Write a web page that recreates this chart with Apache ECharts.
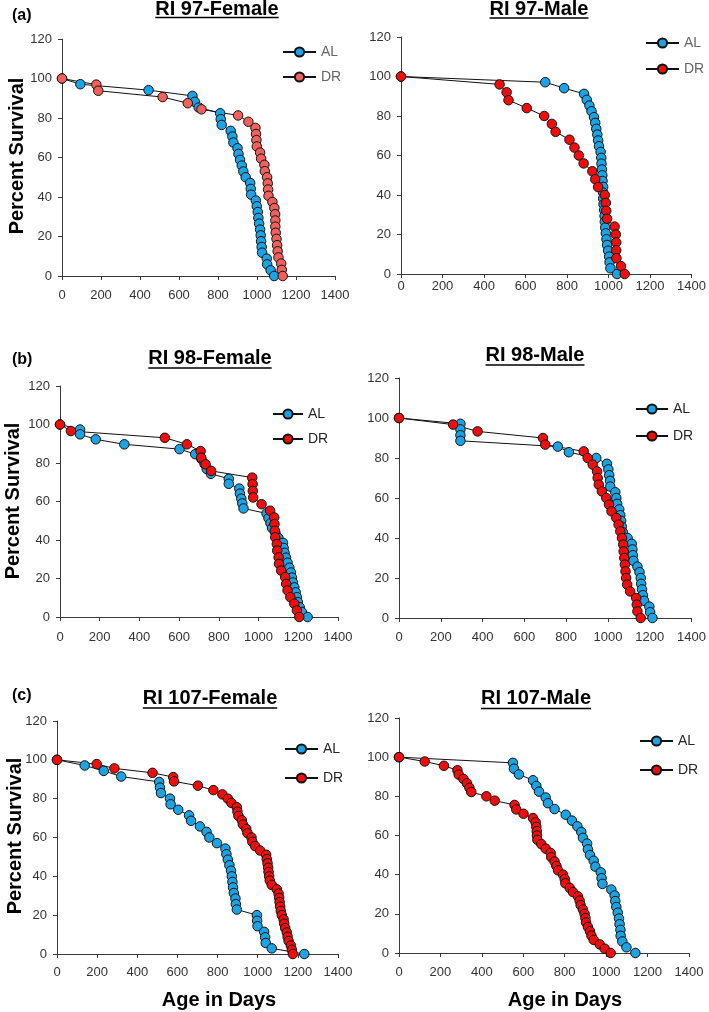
<!DOCTYPE html>
<html><head><meta charset="utf-8">
<script src="https://cdn.jsdelivr.net/npm/echarts@6/dist/echarts.min.js"></script>
<style>html,body{margin:0;padding:0;background:#fff}#c{width:709px;height:1012px}</style>
</head><body><div id="c"></div>
<script>
// ---------- data ----------
const xTicks = [0, 200, 400, 600, 800, 1000, 1200, 1400];
const yTicks = [0, 20, 40, 60, 80, 100, 120];
const panelTitles = ['RI 97-Female', 'RI 97-Male', 'RI 98-Female', 'RI 98-Male', 'RI 107-Female', 'RI 107-Male'];
const panelLetters = ['(a)', '(b)', '(c)'];
const groupNames = ['AL', 'DR'];
const yAxisTitle = 'Percent Survival';
const xAxisTitle = 'Age in Days';

// RI 97-Female
const f97_AL_days = [0,94,444,669,681,701,811,814,819,865,874,879,900,905,913,922,930,942,965,968,970,994,999,1004,1007,1011,1016,1019,1021,1024,1026,1050,1052,1070,1088];
const f97_AL_surv = [100,97.1,94.1,91.2,88.2,85.3,82.4,79.4,76.5,73.5,70.6,67.6,64.7,61.8,58.8,55.9,52.9,50,47.1,44.1,41.2,38.2,35.3,32.4,29.4,26.5,23.5,20.6,17.6,14.7,11.8,8.8,5.9,2.9,0];
const f97_DR_days = [0,176,186,516,645,715,903,956,992,995,997,999,1016,1021,1038,1040,1052,1055,1057,1059,1079,1089,1093,1094,1094,1096,1100,1103,1106,1110,1124,1127,1132];
const f97_DR_surv = [100,96.9,93.8,90.6,87.5,84.4,81.3,78.1,75,71.9,68.8,65.6,62.5,59.4,56.3,53.1,50,46.9,43.8,40.6,37.5,34.4,31.3,28.1,25,21.9,18.8,15.6,12.5,9.4,6.3,3.1,0];
// RI 97-Male
const m97_AL_days = [0,695,786,882,895,908,918,930,936,941,946,950,954,962,965,966,968,970,971,974,974,974,976,979,981,982,984,987,990,993,998,1003,1005,1009,1041];
const m97_AL_surv = [100,97.1,94.1,91.2,88.2,85.3,82.4,79.4,76.5,73.5,70.6,67.6,64.7,61.8,58.8,55.9,52.9,50,47.1,44.1,41.2,38.2,35.3,32.4,29.4,26.5,23.5,20.6,17.6,14.7,11.8,8.8,5.9,2.9,0];
const m97_DR_days = [0,475,509,518,606,690,727,745,812,836,857,880,922,936,950,982,987,989,993,1029,1035,1037,1037,1038,1060,1078];
const m97_DR_surv = [100,96,92,88,84,80,76,72,68,64,60,56,52,48,44,40,36,32,28,24,20,16,12,8,4,0];
// RI 98-Female
const f98_AL_days = [0,101,101,180,324,602,681,712,728,739,760,850,850,903,906,913,918,924,1040,1050,1060,1068,1085,1100,1123,1126,1131,1138,1146,1155,1163,1168,1173,1180,1187,1193,1198,1207,1218,1247];
const f98_AL_surv = [100,97.4,94.9,92.3,89.7,87.2,84.6,82.1,79.5,76.9,74.4,71.8,69.2,66.7,64.1,61.5,59,56.4,53.8,51.3,48.7,46.2,43.6,41,38.5,35.9,33.3,30.8,28.2,25.6,23.1,20.5,17.9,15.4,12.8,10.3,7.7,5.1,2.6,0];
const f98_DR_days = [0,55,528,639,708,711,733,761,968,970,971,973,1015,1058,1079,1080,1082,1084,1092,1094,1101,1103,1114,1134,1139,1146,1160,1180,1193,1205];
const f98_DR_surv = [100,96.6,93.1,89.7,86.2,82.8,79.3,75.9,72.4,69,65.5,62.1,58.6,55.2,51.7,48.3,44.8,41.4,37.9,34.5,31,27.6,24.1,20.7,17.2,13.8,10.3,6.9,3.4,0];
// RI 98-Male
const m98_AL_days = [0,294,294,294,294,760,813,944,995,1002,1006,1010,1011,1035,1040,1044,1054,1059,1063,1066,1071,1094,1114,1117,1119,1122,1141,1151,1157,1159,1163,1167,1173,1198,1202,1213];
const m98_AL_surv = [100,97.1,94.3,91.4,88.6,85.7,82.9,80,77.1,74.3,71.4,68.6,65.7,62.9,60,57.1,54.3,51.4,48.6,45.7,42.9,40,37.1,34.3,31.4,28.6,25.7,22.9,20,17.1,14.3,11.4,8.6,5.7,2.9,0];
const m98_DR_days = [0,259,376,689,700,884,903,927,948,951,956,971,992,1005,1017,1040,1051,1059,1067,1073,1075,1078,1081,1084,1087,1092,1106,1135,1138,1141,1157];
const m98_DR_surv = [100,96.7,93.3,90,86.7,83.3,80,76.7,73.3,70,66.7,63.3,60,56.7,53.3,50,46.7,43.3,40,36.7,33.3,30,26.7,23.3,20,16.7,13.3,10,6.7,3.3,0];
// RI 107-Female
const f107_AL_days = [0,138,233,320,509,513,518,563,566,604,658,668,712,745,759,797,839,844,851,859,867,871,874,877,881,889,891,896,996,997,999,1032,1037,1040,1070,1232];
const f107_AL_surv = [100,97.1,94.3,91.4,88.6,85.7,82.9,80,77.1,74.3,71.4,68.6,65.7,62.9,60,57.1,54.3,51.4,48.6,45.7,42.9,40,37.1,34.3,31.4,28.6,25.7,22.9,20,17.1,14.3,11.4,8.6,5.7,2.9,0];
const f107_DR_days = [0,198,286,476,579,583,702,779,824,851,869,896,899,904,921,926,943,949,969,973,987,1012,1042,1045,1049,1052,1054,1057,1060,1070,1095,1104,1107,1109,1112,1115,1120,1129,1132,1137,1145,1149,1154,1165,1170,1175];
const f107_DR_surv = [100,97.8,95.6,93.3,91.1,88.9,86.7,84.4,82.2,80,77.8,75.6,73.3,71.1,68.9,66.7,64.4,62.2,60,57.8,55.6,53.3,51.1,48.9,46.7,44.4,42.2,40,37.8,35.6,33.3,31.1,28.9,26.7,24.4,22.2,20,17.8,15.6,13.3,11.1,8.9,6.7,4.4,2.2,0];
// RI 107-Male
const m107_AL_days = [0,550,555,579,647,663,676,708,719,751,805,835,861,880,888,908,912,922,940,948,974,978,982,1025,1041,1044,1049,1056,1062,1065,1069,1070,1078,1098,1141];
const m107_AL_surv = [100,97.1,94.1,91.2,88.2,85.3,82.4,79.4,76.5,73.5,70.6,67.6,64.7,61.8,58.8,55.9,52.9,50,47.1,44.1,41.2,38.2,35.3,32.4,29.4,26.5,23.5,20.6,17.6,14.7,11.8,8.8,5.9,2.9,0];
const m107_DR_days = [0,124,217,282,288,311,328,340,349,422,462,558,566,601,647,660,663,665,666,668,687,708,732,735,751,760,768,792,800,803,824,840,864,872,877,888,896,900,903,912,922,929,940,969,993,1022];
const m107_DR_surv = [100,97.8,95.6,93.3,91.1,88.9,86.7,84.4,82.2,80,77.8,75.6,73.3,71.1,68.9,66.7,64.4,62.2,60,57.8,55.6,53.3,51.1,48.9,46.7,44.4,42.2,40,37.8,35.6,33.3,31.1,28.9,26.7,24.4,22.2,20,17.8,15.6,13.3,11.1,8.9,6.7,4.4,2.2,0];

// ---------- layout / style ----------
const panelData = [
  [[f97_AL_days, f97_AL_surv], [f97_DR_days, f97_DR_surv]],
  [[m97_AL_days, m97_AL_surv], [m97_DR_days, m97_DR_surv]],
  [[f98_AL_days, f98_AL_surv], [f98_DR_days, f98_DR_surv]],
  [[m98_AL_days, m98_AL_surv], [m98_DR_days, m98_DR_surv]],
  [[f107_AL_days, f107_AL_surv], [f107_DR_days, f107_DR_surv]],
  [[m107_AL_days, m107_AL_surv], [m107_DR_days, m107_DR_surv]]
];
const grids = [
  {left: 62, top: 39, width: 273, height: 237},
  {left: 401, top: 37, width: 292, height: 237},
  {left: 60, top: 386, width: 278, height: 231},
  {left: 399, top: 378, width: 294, height: 240},
  {left: 57, top: 721, width: 281, height: 233},
  {left: 399, top: 718, width: 290, height: 235}
];
const xLabelMargin = [13, 6, 14, 13, 12, 13];
const legendPos = [
  {left: 282, top: 45, w: 33, gap: 11},
  {left: 645, top: 36, w: 33, gap: 12},
  {left: 272, top: 407, w: 30, gap: 11},
  {left: 635, top: 402, w: 32, gap: 13},
  {left: 284, top: 742, w: 33, gap: 15},
  {left: 639, top: 734, w: 33, gap: 15}
];
const titlePos = [[217, 9, 17.5], [539, 9, 18], [210, 358.5, 368], [535, 355, 365], [210, 698.5, 708], [536, 698, 708.5]];
const letterPos = [[12, 15.5], [12, 360], [12, 695.5]];
const yTitlePos = [[17, 156], [13, 501], [15, 836]];
const xTitlePos = [[219, 1000], [565, 1000]];
const BLUE = '#1BA3E3';
const RED = '#F20D0D';
const SALMON = '#F2605C';
const tickFont = '"Liberation Sans", Arial, sans-serif';
const boldFont = '"Liberation Sans", Arial, sans-serif';

const measure = (function () {
  const ctx = document.createElement('canvas').getContext('2d');
  return function (txt, font) { ctx.font = font; return ctx.measureText(txt).width; };
})();

const plainNum = v => String(v);

const option = {
  animation: false,
  backgroundColor: '#fff',
  grid: grids.map(g => Object.assign({containLabel: false}, g)),
  xAxis: grids.map((g, i) => ({
    type: 'value', gridIndex: i,
    min: xTicks[0], max: xTicks[xTicks.length - 1], interval: xTicks[1] - xTicks[0],
    splitLine: {show: false},
    axisLine: {show: true, onZero: false, lineStyle: {color: '#3a3a3a', width: 1}},
    axisTick: {show: true, inside: false, length: 4, lineStyle: {color: '#3a3a3a'}},
    axisLabel: {margin: xLabelMargin[i], color: '#333', fontSize: 13, fontFamily: tickFont, formatter: plainNum}
  })),
  yAxis: grids.map((g, i) => ({
    type: 'value', gridIndex: i,
    min: yTicks[0], max: yTicks[yTicks.length - 1], interval: yTicks[1] - yTicks[0],
    splitLine: {show: false},
    axisLine: {show: true, onZero: false, lineStyle: {color: '#3a3a3a', width: 1}},
    axisTick: {show: true, inside: false, length: 4, lineStyle: {color: '#3a3a3a'}},
    axisLabel: {margin: 10, color: '#333', fontSize: 13, fontFamily: tickFont, formatter: plainNum}
  })),
  legend: legendPos.map((p, i) => ({
    orient: 'vertical', left: p.left, top: p.top, padding: 0,
    itemWidth: p.w, itemHeight: 11.5, itemGap: p.gap,
    data: groupNames.map(n => n + '_' + i),
    formatter: name => name.split('_')[0],
    selectedMode: false,
    textStyle: {fontSize: 14, lineHeight: 14, fontFamily: tickFont, color: i < 2 ? '#666' : '#262626'}
  })),
  series: [],
  graphic: []
};

panelData.forEach((pd, i) => {
  pd.forEach((arr, k) => {
    const days = arr[0], surv = arr[1];
    const fill = k === 0 ? BLUE : (i === 0 ? SALMON : RED);
    option.series.push({
      name: groupNames[k] + '_' + i,
      type: 'line', xAxisIndex: i, yAxisIndex: i,
      data: days.map((d, j) => [d, surv[j]]),
      symbol: 'circle', symbolSize: 9.5, showSymbol: true,
      itemStyle: {color: fill, borderColor: '#111', borderWidth: 1},
      lineStyle: {color: '#111', width: 1},
      emphasis: {disabled: true},
      silent: true
    });
  });
});

const titleFont = 'bold 20px ' + boldFont;
panelTitles.forEach((t, i) => {
  const p = titlePos[i];
  const w = measure(t, titleFont);
  option.graphic.push({type: 'text', x: p[0], y: p[1], style: {text: t, font: titleFont, fill: '#000', align: 'center', verticalAlign: 'middle'}});
  option.graphic.push({type: 'line', shape: {x1: p[0] - w / 2, y1: p[2], x2: p[0] + w / 2, y2: p[2]}, style: {stroke: '#000', lineWidth: 1.6}});
});
panelLetters.forEach((t, i) => {
  option.graphic.push({type: 'text', x: letterPos[i][0], y: letterPos[i][1], style: {text: t, font: 'bold 16px ' + boldFont, fill: '#000', align: 'left', verticalAlign: 'middle'}});
});
yTitlePos.forEach(p => {
  option.graphic.push({type: 'text', x: p[0], y: p[1], rotation: Math.PI / 2, style: {text: yAxisTitle, font: 'bold 20px ' + boldFont, fill: '#000', align: 'center', verticalAlign: 'middle'}});
});
xTitlePos.forEach(p => {
  option.graphic.push({type: 'text', x: p[0], y: p[1], style: {text: xAxisTitle, font: 'bold 20px ' + boldFont, fill: '#000', align: 'center', verticalAlign: 'middle'}});
});

const chart = echarts.init(document.getElementById('c'), null, {renderer: 'canvas'});
chart.setOption(option);
</script>
</body></html>
